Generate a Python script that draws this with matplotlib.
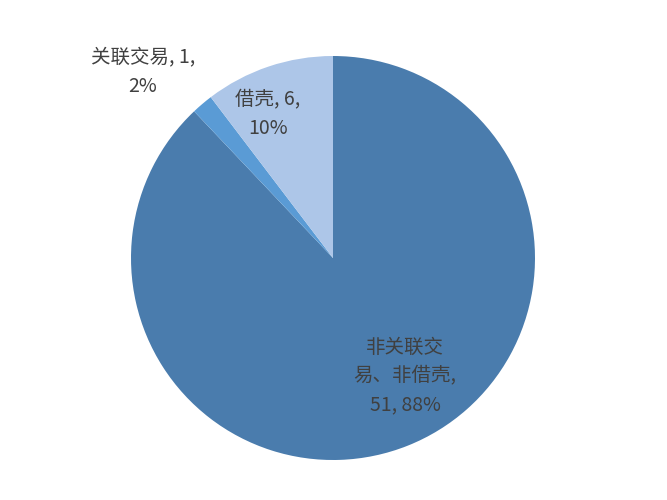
import matplotlib
matplotlib.use('Agg')
import matplotlib.pyplot as plt

plt.rcParams['font.family'] = ['Noto Sans CJK SC', 'DejaVu Sans']

# slice data, clockwise from 12 o'clock
categories = ['非关联交易、非借壳', '关联交易', '借壳']
counts = [51, 1, 6]
percents = ['88%', '2%', '10%']
colors = ['#4a7cad', '#5a9bd5', '#adc6e8']

# label text as shown on the chart (line breaks as in the picture)
label_texts = ['非关联交\n易、非借壳,\n51, 88%', '关联交易, 1,\n2%', '借壳, 6,\n10%']
label_pos = [(405, 124), (143, 428), (268, 386)]

fig = plt.figure(figsize=(6.67, 5), dpi=100)
ax = fig.add_axes([0, 0, 1, 1])
ax.pie(counts, colors=colors, startangle=90, counterclock=False,
       radius=202, center=(333, 242), wedgeprops={'linewidth': 0})
ax.set_xlim(0, 667)
ax.set_ylim(0, 500)
ax.set_aspect('equal')
ax.axis('off')

for txt, (x, y) in zip(label_texts, label_pos):
    ax.text(x, y, txt, ha='center', va='center', fontsize=14,
            color='#404040', linespacing=1.5)

fig.savefig('out.png', dpi=100)
